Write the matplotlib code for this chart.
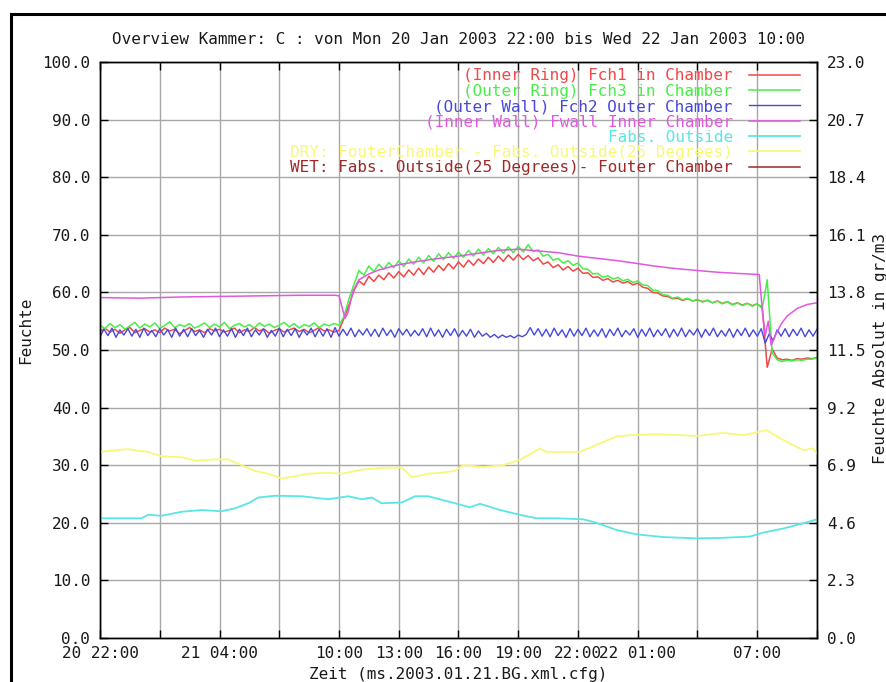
import numpy as np
import matplotlib.pyplot as plt
from matplotlib.lines import Line2D

plt.rcParams['font.family'] = ['DejaVu Sans Mono']
plt.rcParams['font.size'] = 11.5
plt.rcParams['text.color'] = '#1a1a1a'

# hours since Mon 20 Jan 2003 22:00
t_start = 0.0
t_end = 36.0

# relative humidity [%], sampled every 0.25 h
fch1 = [
    53.2, 53.8, 53.1, 53.6, 52.9, 53.5, 53.9, 53.0, 53.4, 53.7, 53.1, 53.5,
    53.0, 53.8, 53.3, 53.6, 52.8, 53.4, 53.9, 53.2, 53.5, 53.0, 53.7, 53.3,
    53.6, 53.1, 53.4, 53.8, 53.0, 53.5, 53.2, 53.9, 53.3, 53.6, 52.9, 53.4,
    53.7, 53.1, 53.5, 53.8, 53.2, 53.6, 53.0, 53.4, 53.9, 53.3, 53.5, 53.1,
    53.4, 55.5, 57.8, 60.3, 62.0, 61.3, 62.8, 61.9, 63.0, 62.2, 63.4, 62.5,
    63.6, 62.7, 63.9, 63.0, 64.2, 63.1, 64.4, 63.5, 64.7, 63.8, 65.0, 64.1,
    65.3, 64.4, 65.6, 64.7, 65.8, 65.0, 66.1, 65.2, 66.3, 65.4, 66.5, 65.6,
    66.6, 65.7, 66.4, 65.5, 66.0, 64.9, 65.3, 64.3, 64.8, 63.9, 64.5, 63.7,
    64.2, 63.3, 63.4, 62.6, 62.7, 62.1, 62.4, 61.8, 62.1, 61.6, 61.9, 61.3,
    61.6, 60.9, 60.7, 60.0, 59.9, 59.4, 59.3, 58.9, 59.0, 58.6, 58.9, 58.5,
    58.7, 58.4, 58.6, 58.2, 58.5, 58.1, 58.4, 57.9, 58.2, 57.8, 58.1, 57.7,
    58.0, 57.4, 47.0, 50.2, 48.6, 48.3, 48.4, 48.2, 48.5, 48.4, 48.6, 48.5,
    48.7,
]
fch3 = [
    54.3, 53.7, 54.6, 53.9, 54.4, 53.6, 54.2, 54.8, 53.8, 54.5, 54.0, 54.7,
    53.7, 54.3, 54.9, 53.9, 54.4, 54.1, 54.6, 53.8, 54.2, 54.7, 53.9, 54.5,
    54.0, 54.8, 53.7, 54.3, 54.6, 54.0, 54.4, 53.8, 54.7, 54.1, 54.5, 53.9,
    54.3, 54.8, 54.0, 54.6, 53.8, 54.4, 54.1, 54.7, 53.9, 54.5, 54.2, 54.6,
    54.3, 55.8, 58.9, 61.4, 63.8, 63.0, 64.6, 63.6, 64.9, 64.0, 65.2, 64.3,
    65.5, 64.5, 65.8, 64.9, 66.1, 65.1, 66.4, 65.4, 66.7, 65.7, 66.9, 65.9,
    67.0, 66.1, 67.3, 66.3, 67.5, 66.5, 67.6, 66.7, 67.8, 66.8, 67.9, 66.9,
    68.0, 67.0, 68.3, 67.1, 67.4, 66.3, 66.6, 65.6, 65.9, 65.1, 65.5, 64.7,
    65.1, 64.1, 64.0, 63.2, 63.3, 62.6, 62.9, 62.3, 62.6, 62.0, 62.3, 61.7,
    62.0, 61.3, 61.2, 60.4, 60.3, 59.6, 59.5, 59.0, 59.2, 58.7, 59.0, 58.5,
    58.8, 58.3, 58.7, 58.2, 58.5, 58.0, 58.4, 57.8, 58.2, 57.7, 58.1, 57.6,
    58.0, 57.2, 62.2, 49.5, 48.3, 48.0, 48.2, 48.1, 48.3, 48.2, 48.4, 48.4,
    48.6,
]

# outer wall, sampled every 0.2 h
fch2 = [
    52.3, 53.6, 52.5, 53.8, 52.2, 53.5, 52.6, 53.7, 52.4, 53.6,
    52.2, 53.8, 52.5, 53.4, 52.3, 53.7, 52.6, 53.5, 52.2, 53.8,
    52.4, 53.6, 52.3, 53.7, 52.5, 53.4, 52.2, 53.6, 52.6, 53.8,
    52.3, 53.5, 52.4, 53.7, 52.2, 53.6, 52.5, 53.8, 52.3, 53.5,
    52.6, 53.7, 52.2, 53.4, 52.4, 53.8, 52.3, 53.6, 52.5, 53.7,
    52.2, 53.5, 52.6, 53.8, 52.3, 53.6, 52.4, 53.7, 52.2, 53.9,
    52.4, 53.6, 52.5, 53.8, 52.3, 53.5, 52.6, 53.7, 52.4, 53.6,
    52.3, 53.8, 52.5, 53.5, 52.2, 53.7, 52.6, 53.6, 52.4, 53.4,
    52.5, 53.7, 52.3, 53.8, 52.4, 53.5, 52.2, 53.6, 52.5, 53.7,
    52.3, 53.4, 52.4, 53.6, 52.2, 53.3, 52.4, 52.9, 52.2, 52.7,
    52.1, 52.6, 52.2, 52.5, 52.1, 52.6, 52.3, 52.7, 53.9, 52.6,
    53.7, 52.4, 53.6, 52.3, 53.8, 52.5, 53.5, 52.2, 53.7, 52.4,
    53.6, 52.5, 53.8, 52.3, 53.5, 52.4, 53.7, 52.2, 53.6, 52.5,
    53.8, 52.3, 53.4, 52.6, 53.7, 52.2, 53.6, 52.4, 53.8, 52.3,
    53.5, 52.5, 53.7, 52.2, 53.6, 52.4, 53.8, 52.3, 53.5, 52.6,
    53.7, 52.2, 53.6, 52.5, 53.8, 52.3, 53.4, 52.4, 53.7, 52.2,
    53.6, 52.5, 53.8, 52.3, 53.5, 52.4, 53.7, 51.2, 52.8, 51.6,
    53.5, 52.4, 53.7, 52.3, 53.6, 52.5, 53.8, 52.3, 53.5, 52.4, 53.6,
]

# inner wall
fwall_t = [0, 2, 4, 6, 8, 10, 11.8, 12.0, 12.15, 12.3, 12.45, 12.7, 13.0, 13.5,
           14, 15, 16, 17, 18, 19, 20, 21, 22, 23, 24, 25, 26, 27, 28, 29, 30,
           31, 32, 33.1, 33.25, 33.4, 33.55, 33.7, 33.9, 34.2, 34.5, 35, 35.5, 36]
fwall = [59.1, 59.0, 59.2, 59.3, 59.4, 59.5, 59.5, 59.4, 57.5, 55.5, 56.5, 60.2,
         62.2, 63.2, 63.9, 64.8, 65.4, 65.9, 66.3, 66.8, 67.3, 67.5, 67.2, 66.9,
         66.3, 65.9, 65.5, 65.0, 64.5, 64.1, 63.8, 63.5, 63.3, 63.1, 57.0, 52.5,
         55.0, 50.8, 52.5, 54.5, 55.9, 57.2, 57.9, 58.2]

# absolute humidity outside [g/m3]
fabs_t = [0, 2.09, 2.41, 3.1, 4.1, 5.1, 6.1, 6.78, 7.44, 7.95, 8.79, 10.13,
          11.46, 12.46, 13.14, 13.64, 14.14, 15.15, 15.81, 16.48, 17.15, 17.82,
          18.57, 19.08, 20.08, 21.08, 21.92, 22.93, 24.26, 24.93, 25.94, 26.94,
          28.28, 29.95, 31.29, 32.63, 33.3, 34.3, 35.31, 36]
fabs = [4.78, 4.78, 4.92, 4.88, 5.04, 5.11, 5.06, 5.18, 5.38, 5.61, 5.68, 5.66,
        5.54, 5.66, 5.54, 5.61, 5.38, 5.41, 5.66, 5.66, 5.52, 5.38, 5.22, 5.36,
        5.11, 4.92, 4.78, 4.78, 4.74, 4.60, 4.31, 4.14, 4.03, 3.98, 4.00, 4.05,
        4.21, 4.37, 4.58, 4.74]

# DRY: Fouter chamber - Fabs outside (25 degrees) [g/m3]
dry_t = [0, 0.75, 1.42, 1.92, 2.43, 3.1, 4.1, 4.77, 5.77, 6.44, 7.11, 7.78,
         8.45, 9.12, 9.79, 10.46, 11.46, 12.13, 13.14, 14.14, 15.15, 15.65,
         16.48, 17.15, 17.82, 18.23, 19.24, 20.25, 21.08, 22.09, 22.42, 24.1,
         24.93, 25.94, 26.61, 27.95, 29.95, 31.29, 32.3, 33.47, 34.3, 35.31,
         35.8, 36]
dry = [7.43, 7.50, 7.54, 7.48, 7.43, 7.25, 7.22, 7.08, 7.13, 7.13, 6.90, 6.67,
       6.56, 6.37, 6.46, 6.56, 6.60, 6.56, 6.72, 6.79, 6.81, 6.42, 6.56, 6.60,
       6.67, 6.90, 6.83, 6.90, 7.11, 7.57, 7.43, 7.43, 7.71, 8.05, 8.10, 8.14,
       8.07, 8.19, 8.10, 8.30, 7.91, 7.50, 7.57, 7.38]
wet = [-v for v in dry]

xtick_hours = np.arange(0, 37, 3)
xtick_labels = ['20 22:00', '', '21 04:00', '', '10:00', '13:00', '16:00',
                '19:00', '22:00', '22 01:00', '', '07:00', '']

labels = ['(Inner Ring) Fch1 in Chamber',
          '(Outer Ring) Fch3 in Chamber',
          '(Outer Wall) Fch2 Outer Chamber',
          '(Inner Wall) Fwall Inner Chamber',
          'Fabs. Outside',
          'DRY: FouterChamber - Fabs. Outside(25 Degrees)',
          'WET: Fabs. Outside(25 Degrees)- Fouter Chamber']
colors = ['#f04848', '#48ee48', '#4848dc', '#e058e0', '#58e6e6', '#f8f878', '#a02828']

fig = plt.figure(figsize=(8.86, 6.82), dpi=100)
ax = fig.add_axes([100 / 886, 44 / 682, 717 / 886, 576 / 682])
ax2 = ax.twinx()

t25 = np.arange(len(fch1)) * 0.25
t20 = np.arange(len(fch2)) * 0.2

l1, = ax.plot(t25, fch1, color=colors[0], lw=1.1)
l2, = ax.plot(t25, fch3, color=colors[1], lw=1.1)
l3, = ax.plot(t20, fch2, color=colors[2], lw=1.0)
l4, = ax.plot(fwall_t, fwall, color=colors[3], lw=1.1)
l5, = ax2.plot(fabs_t, fabs, color=colors[4], lw=1.3)
l6, = ax2.plot(dry_t, dry, color=colors[5], lw=1.3)
l7, = ax2.plot(dry_t, wet, color=colors[6], lw=1.1)

ax.set_xlim(t_start, t_end)
ax.set_ylim(0, 100)
ax2.set_ylim(0, 23)

ax.set_xticks(xtick_hours)
ax.set_xticklabels(xtick_labels)
ax.set_yticks(np.arange(0, 101, 10))
ax.set_yticklabels(['%.1f' % v for v in np.arange(0, 101, 10)])
ax2.set_yticks(np.linspace(0, 23, 11))
ax2.set_yticklabels(['%.1f' % v for v in np.linspace(0, 23, 11)])

ax.grid(True, color='#a8a8a8', lw=1.0)
ax.set_axisbelow(True)
ax.tick_params(axis='both', direction='in', length=6, width=1, pad=7,
               top=True, right=False, colors='black', labelcolor='#1a1a1a')
ax.tick_params(axis='x', pad=6)
ax2.tick_params(axis='y', direction='in', length=6, width=1, pad=7,
                labelcolor='#1a1a1a')
for a in (ax, ax2):
    for s in a.spines.values():
        s.set_color('black')
        s.set_linewidth(1.0)

leg = ax2.legend([l1, l2, l3, l4, l5, l6, l7], labels, loc='upper right',
                 bbox_to_anchor=(0.985, 1.0), frameon=False, markerfirst=False,
                 handlelength=3.2, handletextpad=1.0, labelspacing=0.02,
                 borderaxespad=0.0, fontsize=11.5)
for txt, c in zip(leg.get_texts(), colors):
    txt.set_color(c)

fig.text(458 / 886, 1 - 40 / 682,
         'Overview Kammer: C : von Mon 20 Jan 2003 22:00 bis Wed 22 Jan 2003 10:00',
         ha='center', va='center')
fig.text(458 / 886, 1 - 675 / 682, 'Zeit (ms.2003.01.21.BG.xml.cfg)',
         ha='center', va='center')
fig.text(26 / 886, 1 - 330 / 682, 'Feuchte', rotation=90, ha='center', va='center')
fig.text(880 / 886, 1 - 348 / 682, 'Feuchte Absolut in gr/m3', rotation=90,
         ha='center', va='center')

# black border along the left and top edges
fig.add_artist(Line2D([10.7 / 886, 10.7 / 886], [0, 1 - 14 / 682],
                      transform=fig.transFigure, color='black', lw=2.2))
fig.add_artist(Line2D([10.7 / 886, 1], [1 - 14 / 682, 1 - 14 / 682],
                      transform=fig.transFigure, color='black', lw=2.2))

fig.savefig('out.png', dpi=100)
